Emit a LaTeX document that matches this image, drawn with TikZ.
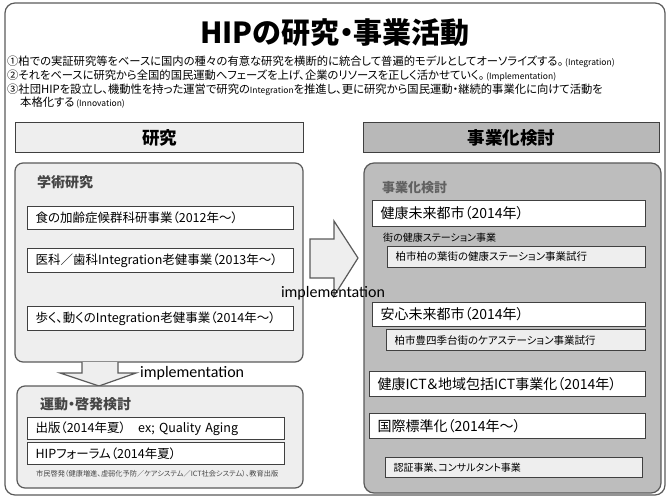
\documentclass[tikz,border=0pt]{standalone}
\usepackage{fontspec}
\setmainfont{Noto Sans CJK JP}[RawFeature=+palt]
\newfontfamily\calibrifont{Carlito}
\usetikzlibrary{positioning}

\definecolor{framegray}{HTML}{5A5A5A}
\definecolor{linegray}{HTML}{404040}
\definecolor{lightfill}{HTML}{EEEEEE}
\definecolor{headfill}{HTML}{B8B8B8}
\definecolor{darkfill}{HTML}{BDBDBD}
\definecolor{labelgray}{HTML}{454545}

\begin{document}
\begin{tikzpicture}[x=1pt, y=-1pt,
    header/.style={draw=linegray, line width=1.2pt, anchor=north west, inner sep=0pt, font=\fontsize{17.5}{20}\selectfont\bfseries},
    panel/.style={draw=framegray, line width=1.2pt, rounded corners=8pt},
    item/.style={draw=linegray, line width=1pt, fill=white, anchor=north west, inner xsep=8pt, inner ysep=0pt, align=left},
    subitem/.style={item, fill=lightfill},
    panellabel/.style={anchor=west, inner sep=0pt, text=labelgray, font=\fontsize{14}{16}\selectfont\bfseries},
    note/.style={anchor=west, inner sep=0pt, font=\fontsize{11.3}{12}\selectfont},
    blockarrow/.style={draw=framegray, line width=1.2pt, fill=lightfill, line join=miter}]
    \useasboundingbox (0,0) rectangle (669,497);

    % Outer frame and title
    \draw[draw=framegray, line width=1.2pt, rounded corners=10pt] (5,3) rectangle (665,495);
    \node (title) at (335,33) [font=\fontsize{29}{32}\selectfont\bfseries] {HIPの研究・事業活動};
    \node (line1) at (7,62) [note] {①柏での実証研究等をベースに国内の種々の有意な研究を横断的に統合して普遍的モデルとしてオーソライズする。\,{\fontsize{8.5}{9}\selectfont (Integration)}};
    \node (line2) at (7,76) [note] {②それをベースに研究から全国的国民運動へフェーズを上げ、企業のリソースを正しく活かせていく。\,{\fontsize{8.5}{9}\selectfont (Implementation)}};
    \node (line3) at (7,90) [note] {③社団HIPを設立し、機動性を持った運営で研究の{\fontsize{8.5}{9}\selectfont Integration}を推進し、更に研究から国民運動・継続的事業化に向けて活動を};
    \node (line4) at (20,103) [note] {本格化する\,{\fontsize{8.5}{9}\selectfont (Innovation)}};

    % Column headers
    \node (kenkyu) at (15,122) [header, fill=lightfill, minimum width=288pt, minimum height=30pt] {研究};
    \node (jigyo) at (363,122) [header, fill=headfill, minimum width=296pt, minimum height=30pt] {事業化検討};

    % Left column: academic research
    \draw[panel, fill=lightfill] (15,163) rectangle (303,362);
    \node (gakujutsu) at (37,182) [panellabel] {学術研究};
    \node (shoku) at (27,206) [item, text width=250pt, minimum height=23pt, font=\fontsize{12.5}{14}\selectfont] {食の加齢症候群科研事業（2012年～）};
    \node (ika) at (27,248) [item, text width=250pt, minimum height=24pt, font=\fontsize{12.5}{14}\selectfont] {医科／歯科Integration老健事業（2013年～）};
    \node (aruku) at (27,306) [item, text width=250pt, minimum height=24pt, font=\fontsize{12.5}{14}\selectfont] {歩く、動くのIntegration老健事業（2014年～）};

    % Down arrow to movement / awareness
    \draw[blockarrow] (82,362) -- (82,373) -- (60,373) -- (99,386) -- (136,373) -- (118,373) -- (118,362);
    \node (impl1) at (140,373) [anchor=west, inner sep=0pt, font=\calibrifont\fontsize{16}{18}\selectfont] {implementation};

    % Left column: movement / awareness
    \draw[panel, fill=lightfill] (17,386) rectangle (303,488);
    \node (undo) at (40,404) [panellabel] {運動・啓発検討};
    \node (shuppan) at (27,417) [item, text width=241pt, minimum height=22pt, font=\fontsize{12.5}{14}\selectfont] {出版（2014年夏）\quad ex; Quality Aging};
    \node (forum) at (27,442) [item, text width=241pt, minimum height=22pt, font=\fontsize{12.5}{14}\selectfont] {HIPフォーラム（2014年夏）};
    \node (shimin) at (36,474) [anchor=west, inner sep=0pt, text=labelgray, font=\fontsize{7.2}{8}\selectfont] {市民啓発（健康増進、虚弱化予防／ケアシステム／ICT社会システム）、教育出版};

    % Right column: business study
    \draw[panel, fill=darkfill, rounded corners=10pt] (364,163) rectangle (661,493);
    \node (jigyolabel) at (382,188) [panellabel, font=\fontsize{13}{15}\selectfont\bfseries, text=labelgray!85] {事業化検討};
    \node (kenko) at (372,200) [item, text width=257pt, minimum height=26pt, font=\fontsize{14}{16}\selectfont] {健康未来都市（2014年）};
    \node (machi) at (383,238) [anchor=west, inner sep=0pt, font=\fontsize{10}{12}\selectfont] {街の健康ステーション事業};
    \node (kashiwa) at (387,246) [subitem, text width=242pt, minimum height=21pt, font=\fontsize{10.5}{12}\selectfont] {柏市柏の葉街の健康ステーション事業試行};
    \node (anshin) at (372,302) [item, text width=257pt, minimum height=24pt, font=\fontsize{14}{16}\selectfont] {安心未来都市（2014年）};
    \node (toyo) at (386,329) [subitem, text width=243pt, minimum height=21pt, font=\fontsize{10.5}{12}\selectfont] {柏市豊四季台街のケアステーション事業試行};
    \node (ict) at (369,371) [item, text width=260pt, minimum height=25pt, font=\fontsize{14}{16}\selectfont] {健康ICT＆地域包括ICT事業化（2014年）};
    \node (kokusai) at (369,413) [item, text width=260pt, minimum height=25pt, font=\fontsize{14}{16}\selectfont] {国際標準化（2014年～）};
    \node (ninsho) at (385,457) [subitem, text width=241pt, minimum height=20pt, font=\fontsize{10}{12}\selectfont] {認証事業、コンサルタント事業};

    % Right arrow between the columns
    \draw[blockarrow] (310,239) -- (334,239) -- (334,221) -- (358,258) -- (334,296) -- (334,278) -- (310,278) -- cycle;
    \node (impl2) at (333,293) [inner sep=0pt, font=\calibrifont\fontsize{16}{18}\selectfont] {implementation};
\end{tikzpicture}
\end{document}
